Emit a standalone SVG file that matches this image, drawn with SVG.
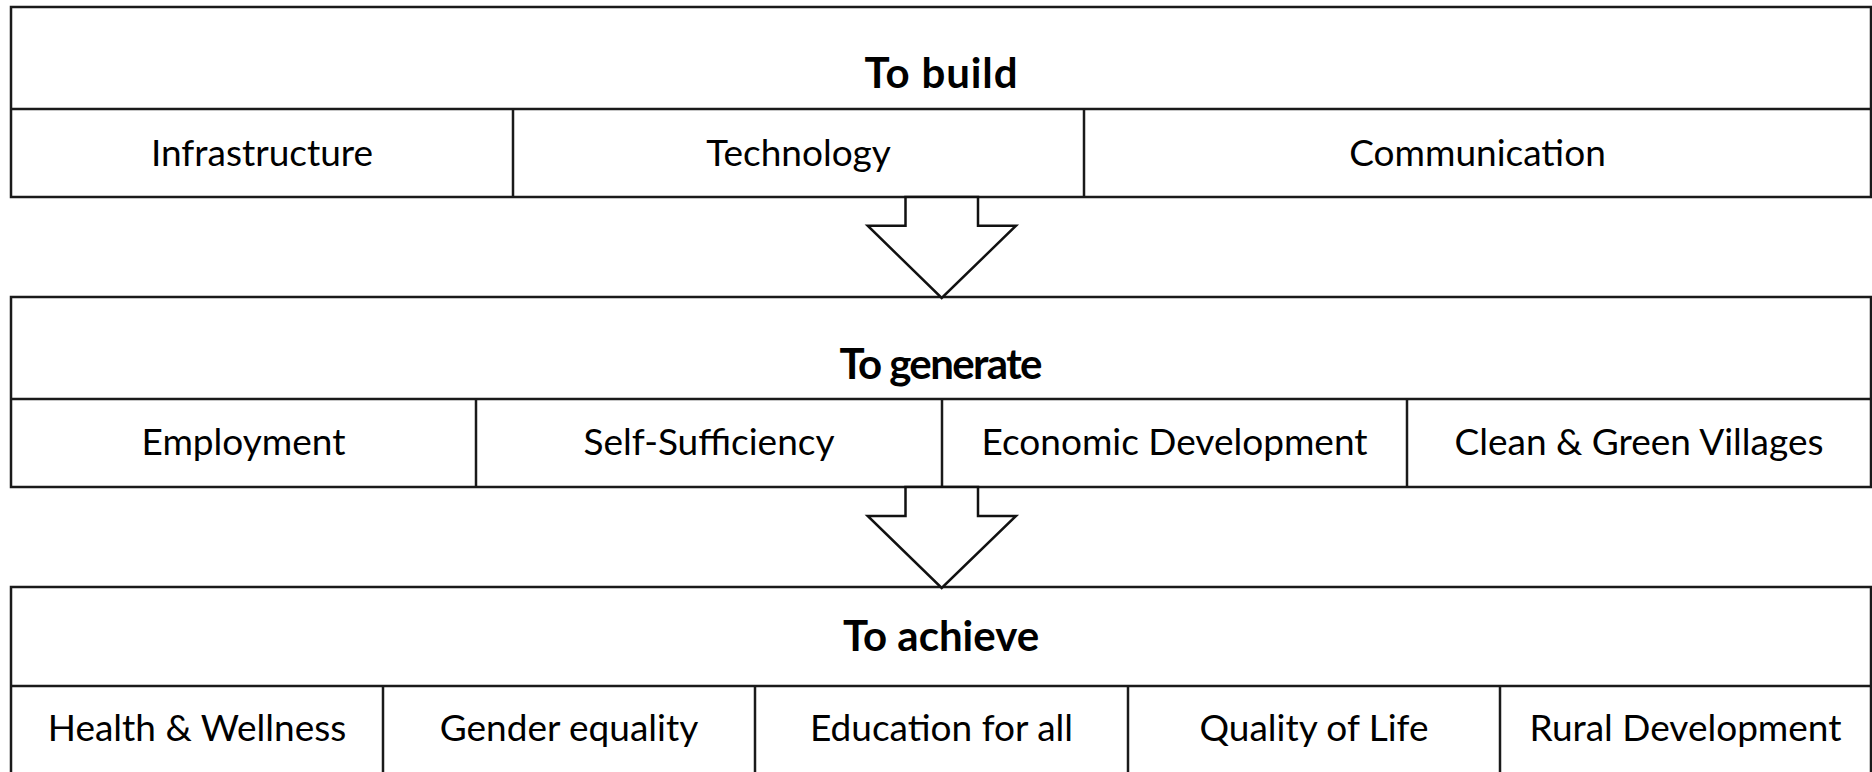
<svg xmlns="http://www.w3.org/2000/svg" width="1872" height="772" viewBox="0 0 1872 772">
<style>
.box{fill:#fff;stroke:#1a1a1a;stroke-width:2.5}
.ln{stroke:#1a1a1a;stroke-width:2.5;fill:none}
.arrow{fill:#fff;stroke:#111;stroke-width:2.5;stroke-linejoin:miter}
.h{font-family:Lato,"Liberation Sans",sans-serif;font-weight:bold;font-size:42px;fill:#000;text-anchor:middle}
.t{font-family:Lato,"Liberation Sans",sans-serif;font-size:37px;fill:#000;text-anchor:middle}
</style>
<rect width="1872" height="772" fill="#fff"/>
<g id="build">
<rect class="box" x="11" y="7" width="1860" height="190"/>
<line class="ln" x1="11" y1="109" x2="1871" y2="109"/>
<line class="ln" x1="513" y1="109" x2="513" y2="197"/>
<line class="ln" x1="1084" y1="109" x2="1084" y2="197"/>
<text class="h" x="941" y="88" textLength="153">To build</text>
<text class="t" x="262" y="165.5">Infrastructure</text>
<text class="t" x="798.5" y="165.5">Technology</text>
<text class="t" x="1477.5" y="165.5">Communication</text>
</g>
<g id="generate">
<rect class="box" x="11" y="297" width="1860" height="190"/>
<line class="ln" x1="11" y1="399" x2="1871" y2="399"/>
<line class="ln" x1="476" y1="399" x2="476" y2="487"/>
<line class="ln" x1="942" y1="399" x2="942" y2="487"/>
<line class="ln" x1="1407" y1="399" x2="1407" y2="487"/>
<text class="h" x="941" y="379" textLength="203">To generate</text>
<text class="t" x="243.5" y="455">Employment</text>
<text class="t" x="709" y="455">Self-Sufficiency</text>
<text class="t" x="1174.5" y="455">Economic Development</text>
<text class="t" x="1639" y="455">Clean &amp; Green Villages</text>
</g>
<g id="achieve">
<rect class="box" x="11" y="587" width="1860" height="190"/>
<line class="ln" x1="11" y1="686" x2="1871" y2="686"/>
<line class="ln" x1="383" y1="686" x2="383" y2="777"/>
<line class="ln" x1="755" y1="686" x2="755" y2="777"/>
<line class="ln" x1="1128" y1="686" x2="1128" y2="777"/>
<line class="ln" x1="1500" y1="686" x2="1500" y2="777"/>
<text class="h" x="941" y="651">To achieve</text>
<text class="t" x="197" y="740.5">Health &amp; Wellness</text>
<text class="t" x="569" y="740.5">Gender equality</text>
<text class="t" x="941.5" y="740.5">Education for all</text>
<text class="t" x="1314" y="740.5">Quality of Life</text>
<text class="t" x="1685.5" y="740.5">Rural Development</text>
</g>
<g id="connectors">
<polygon class="arrow" points="905.5,197 978,197 978,225.7 1016,225.7 941.7,298 867.7,225.7 905.5,225.7"/>
<polygon class="arrow" points="905.5,487 978,487 978,516 1016,516 941.7,588 867.7,516 905.5,516"/>
</g>
</svg>
